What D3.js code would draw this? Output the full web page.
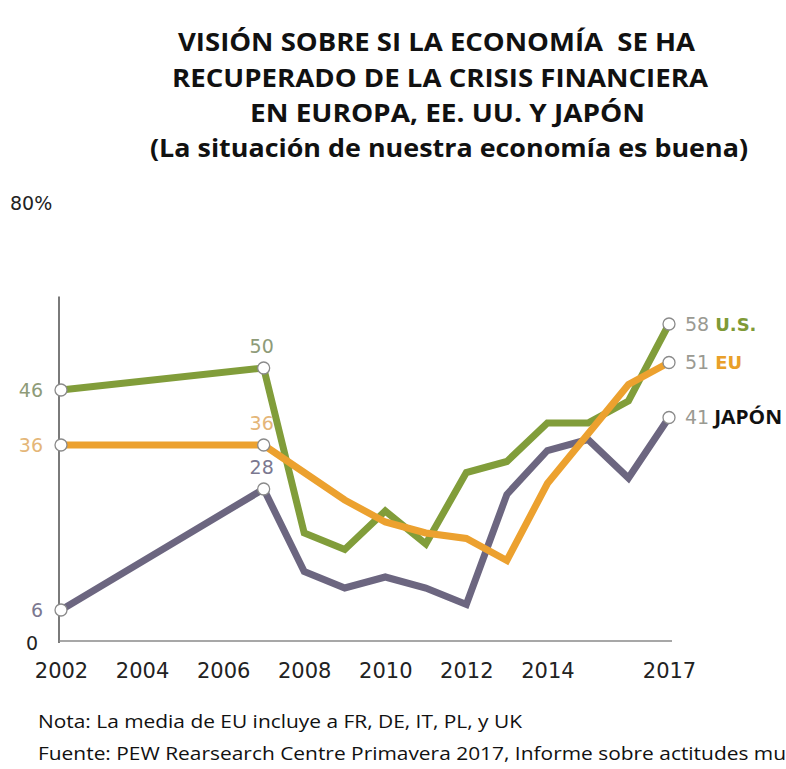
<!DOCTYPE html>
<html>
<head>
<meta charset="utf-8">
<script src="https://cdn.jsdelivr.net/npm/d3@7"></script>
<style>
  html, body { margin: 0; padding: 0; background: #fff; overflow: hidden; }
  svg { display: block; }
</style>
</head>
<body>
<svg id="chart" width="786" height="769"></svg>
<script>
// Survey years and share saying "the economic situation is good" (%)
const years = [2002, 2007, 2008, 2009, 2010, 2011, 2012, 2013, 2014, 2015, 2016, 2017];
const usValues    = [46, 50, 20, 17, 24, 18, 31, 33, 40, 40, 44, 58];
const euValues    = [36, 36, 31, 26, 22, 20, 19, 15, 29, 38, 47, 51];
const japanValues = [ 6, 28, 13, 10, 12, 10,  7, 27, 35, 37, 30, 41];
const tickYears = [2002, 2004, 2006, 2008, 2010, 2012, 2014, 2017];
const markedYears = [2002, 2007, 2017];
const seriesNames = ["U.S.", "EU", "JAPÓN"];

const titleLines = [
  "VISIÓN SOBRE SI LA ECONOMÍA  SE HA",
  "RECUPERADO DE LA CRISIS FINANCIERA",
  "EN EUROPA, EE. UU. Y JAPÓN",
  "(La situación de nuestra economía es buena)"
];
const noteText = "Nota: La media de EU incluye a FR, DE, IT, PL, y UK";
const sourceText = "Fuente: PEW Rearsearch Centre Primavera 2017, Informe sobre actitudes mu";

const svg = d3.select("#chart");

const x = d3.scaleLinear().domain([2002, 2017]).range([61, 669]);
const y = d3.scaleLinear().domain([0, 80]).range([643, 203]);

// Title block
const titleLayout = [
  { x: 178, y: 51, w: 517 },
  { x: 172, y: 87, w: 536 },
  { x: 250, y: 122, w: 395 },
  { x: 150, y: 157, w: 598 }
];
svg.append("g").selectAll("text").data(titleLines).join("text")
  .attr("x", (d, i) => titleLayout[i].x)
  .attr("y", (d, i) => titleLayout[i].y)
  .attr("textLength", (d, i) => titleLayout[i].w)
  .attr("lengthAdjust", "spacingAndGlyphs")
  .style("white-space", "pre")
  .style("font-family", "'Open Sans', sans-serif")
  .style("font-weight", 700)
  .style("font-size", "25px")
  .style("fill", "#111")
  .text(d => d);

// Axes
const axisG = svg.append("g");
axisG.append("line")
  .attr("x1", x(2002) - 2).attr("x2", x(2002) - 2)
  .attr("y1", y(0)).attr("y2", y(63))
  .attr("stroke", "#7a7a7a").attr("stroke-width", 2);
axisG.append("line")
  .attr("x1", x(2002) - 2).attr("x2", x(2017) + 3)
  .attr("y1", y(0) - 2).attr("y2", y(0) - 2)
  .attr("stroke", "#8a8a8a").attr("stroke-width", 1.5);

const xAxis = d3.axisBottom(x).tickValues(tickYears).tickFormat(d3.format("d")).tickSize(0).tickPadding(0);
const xAxisG = svg.append("g").attr("transform", `translate(0,${y(0) + 35})`).call(xAxis);
xAxisG.select(".domain").remove();
xAxisG.selectAll("text")
  .attr("dy", 0)
  .style("font-family", "'DejaVu Sans', sans-serif")
  .style("font-size", "21px")
  .style("fill", "#222");

const yAxis = d3.axisLeft(y).tickValues([0, 80]).tickFormat(d => d === 80 ? "80%" : "0").tickSize(0).tickPadding(0);
const yAxisG = svg.append("g").call(yAxis);
yAxisG.select(".domain").remove();
yAxisG.selectAll("text")
  .attr("text-anchor", "start")
  .attr("x", d => d === 80 ? 10 : 26)
  .attr("dy", "0.35em")
  .style("font-family", "'DejaVu Sans', sans-serif")
  .style("font-size", "19px")
  .style("fill", "#222");

// Series
const series = [
  { name: seriesNames[2], values: japanValues, color: "#6c6680", label: "#7b7890", nameColor: "#111" },
  { name: seriesNames[0], values: usValues,    color: "#819d3a", label: "#8e9b78", nameColor: "#7f9a36" },
  { name: seriesNames[1], values: euValues,    color: "#eca12f", label: "#e4b678", nameColor: "#e9a02a" }
];

const line = d3.line().x(d => x(d.year)).y(d => y(d.value));

series.forEach(s => {
  s.points = years.map((yr, i) => ({ year: yr, value: s.values[i] }));
});

svg.append("g").selectAll("path").data(series).join("path")
  .attr("d", s => line(s.points))
  .attr("fill", "none")
  .attr("stroke", s => s.color)
  .attr("stroke-width", 7)
  .attr("stroke-linejoin", "miter");

// Marker circles
series.forEach(s => {
  svg.append("g").selectAll("circle")
    .data(s.points.filter(p => markedYears.includes(p.year)))
    .join("circle")
    .attr("cx", p => x(p.year))
    .attr("cy", p => y(p.value))
    .attr("r", 6)
    .attr("fill", "#fff")
    .attr("stroke", "#8a8a8a")
    .attr("stroke-width", 1.3);
});

const valueFont = "'DejaVu Sans', sans-serif";

// Start values (2002)
series.forEach(s => {
  const p = s.points[0];
  svg.append("text")
    .attr("x", x(p.year) - 18)
    .attr("y", y(p.value))
    .attr("dy", "0.36em")
    .attr("text-anchor", "end")
    .style("font-family", valueFont)
    .style("font-size", "19px")
    .style("fill", s.label)
    .text(p.value);
});

// 2007 values above the markers
series.forEach(s => {
  const p = s.points[1];
  svg.append("text")
    .attr("x", x(p.year) - 2)
    .attr("y", y(p.value) - 15)
    .attr("text-anchor", "middle")
    .style("font-family", valueFont)
    .style("font-size", "19px")
    .style("fill", s.label)
    .text(p.value);
});

// End values and series names (2017)
series.forEach(s => {
  const p = s.points[s.points.length - 1];
  const t = svg.append("text")
    .attr("x", x(p.year) + 16)
    .attr("y", y(p.value))
    .attr("dy", "0.36em")
    .style("font-size", "19px");
  t.append("tspan")
    .style("font-family", valueFont)
    .style("fill", "#9a9a92")
    .text(p.value);
  if (s.name === "JAPÓN") {
    t.append("tspan")
      .attr("dx", 5)
      .style("font-family", "'Open Sans', sans-serif")
      .style("font-weight", 700)
      .style("font-size", "19px")
      .style("fill", s.nameColor)
      .attr("textLength", 68)
      .attr("lengthAdjust", "spacingAndGlyphs")
      .text(s.name);
  } else {
    t.append("tspan")
      .attr("dx", 6)
      .style("font-family", valueFont)
      .style("font-weight", 700)
      .style("font-size", "18px")
      .style("fill", s.nameColor)
      .text(s.name);
  }
});

// Footnotes
svg.append("text")
  .attr("x", 38).attr("y", 728)
  .attr("textLength", 484)
  .attr("lengthAdjust", "spacingAndGlyphs")
  .style("font-family", "'Open Sans', sans-serif")
  .style("font-size", "18px")
  .style("fill", "#111")
  .text(noteText);
svg.append("text")
  .attr("x", 38).attr("y", 760)
  .attr("textLength", 748)
  .attr("lengthAdjust", "spacingAndGlyphs")
  .style("font-family", "'Open Sans', sans-serif")
  .style("font-size", "18px")
  .style("fill", "#111")
  .text(sourceText);
</script>
</body>
</html>
